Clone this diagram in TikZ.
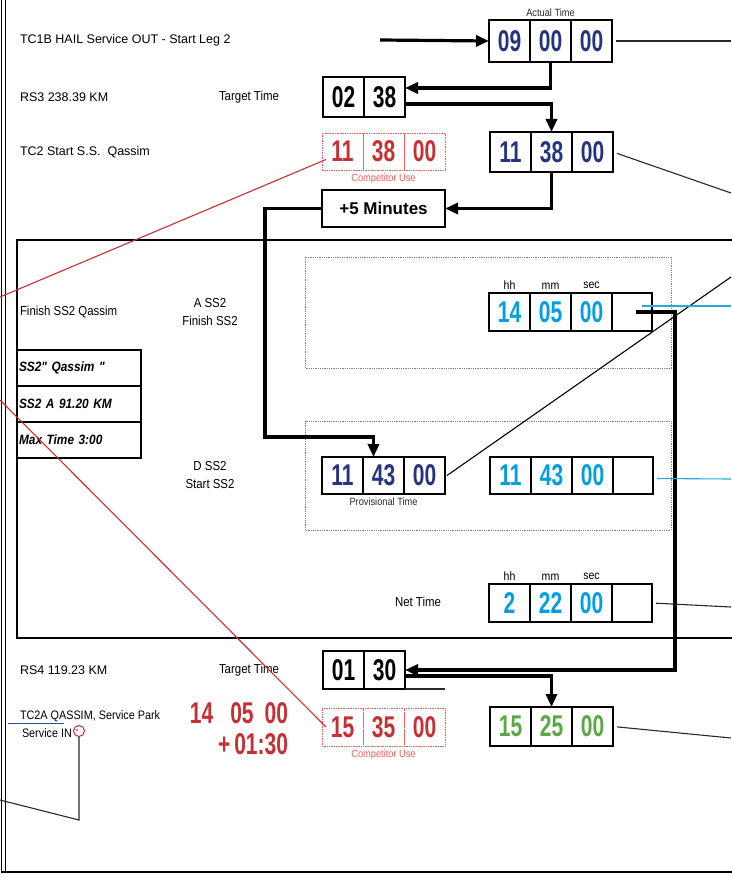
\documentclass[tikz,border=0pt]{standalone}
\usepackage{fontspec}
\setmainfont{Liberation Sans}
\newfontfamily\digitfont[FakeStretch=0.7]{Liberation Sans}
\newfontfamily\narrowfont[FakeStretch=0.88]{Liberation Sans}
\usetikzlibrary{positioning,arrows.meta}
\definecolor{TimeBlue}{RGB}{38,52,128}
\definecolor{TimeCyan}{RGB}{0,158,224}
\definecolor{TimeRed}{RGB}{196,48,52}
\definecolor{CompRed}{RGB}{236,96,96}
\definecolor{TimeGreen}{RGB}{92,168,72}
\definecolor{LinkCyan}{RGB}{40,168,214}
\definecolor{LinkGray}{RGB}{40,40,40}
\definecolor{FrameGray}{RGB}{130,130,130}
\definecolor{MarkBlue}{RGB}{50,70,170}

\begin{document}
\begin{tikzpicture}[x=1pt,y=-1pt,
  every node/.style={inner sep=0pt,outer sep=0pt},
  cell/.style={draw,line width=2.2pt,minimum width=41pt,minimum height=38pt,
    font=\digitfont\bfseries\fontsize{30}{30}\selectfont},
  bluecell/.style={cell,text=TimeBlue},
  cyancell/.style={cell,text=TimeCyan},
  greencell/.style={cell,text=TimeGreen},
  compcell/.style={cell,draw=CompRed,line width=0.7pt,densely dotted,text=TimeRed},
  rowlabel/.style={anchor=west,font=\fontsize{12.5}{14}\selectfont},
  midlabel/.style={align=center,font=\narrowfont\fontsize{13}{18}\selectfont},
  smalllabel/.style={text=LinkGray,font=\narrowfont\fontsize{10.5}{12}\selectfont},
  complabel/.style={smalllabel,text=CompRed},
  unitlabel/.style={font=\narrowfont\fontsize{12}{14}\selectfont},
  tablecell/.style={draw,line width=1.3pt,minimum width=124pt,minimum height=36pt,
    text width=120pt,inner xsep=2pt,align=left,
    font=\narrowfont\bfseries\itshape\fontsize{13.5}{15}\selectfont},
  flow/.style={line width=3.2pt,-{Triangle[length=13pt,width=11pt]}},
  thinlink/.style={line width=1.1pt,LinkGray},
  cyanlink/.style={line width=1.1pt,LinkCyan},
  redlink/.style={line width=1.1pt,TimeRed}]
\useasboundingbox (0,0) rectangle (731,877);

% outer and stage frames
\draw[line width=1.3pt] (1.5,0) -- (1.5,872) -- (735,872);
\draw[line width=1.3pt] (5.5,0) -- (5.5,872);
\draw[line width=2pt] (17,240) rectangle (740,638);
\draw[FrameGray,densely dotted,line width=0.8pt] (305,257) rectangle (671,368);
\draw[FrameGray,densely dotted,line width=0.8pt] (305,421) rectangle (671,530);

% left column texts
\node[rowlabel] (tcout) at (20,40) {TC1B HAIL Service OUT - Start Leg 2};
\node[rowlabel] (rsA) at (20,97) {RS3 238.39 KM};
\node[rowlabel,font=\narrowfont\fontsize{13}{14}\selectfont] (tgtAlabel) at (219,97) {Target Time};
\node[rowlabel] (tcstart) at (20,152) {TC2 Start S.S.\ \ Qassim};
\node[rowlabel,font=\narrowfont\fontsize{13}{14}\selectfont] (finishname) at (20,312) {Finish SS2 Qassim};
\node[midlabel] (finishlabel) at (210,312) {A SS2\\Finish SS2};
\node[midlabel] (startlabel) at (210,475) {D SS2\\Start SS2};
\node[midlabel] (netlabel) at (418,602) {Net Time};
\node[rowlabel] (rsB) at (20,670) {RS4 119.23 KM};
\node[rowlabel,font=\narrowfont\fontsize{13}{14}\selectfont] (tgtBlabel) at (219,670) {Target Time};
\node[rowlabel,font=\narrowfont\fontsize{12.3}{14}\selectfont] (tcpark) at (20,716) {TC2A QASSIM, Service Park};
\node[rowlabel,font=\narrowfont\fontsize{12.3}{14}\selectfont] (tcin) at (22,733) {Service IN};
\node[anchor=east,text=TimeRed,font=\digitfont\bfseries\fontsize{30}{30}\selectfont] (sumA) at (288,713) {14\hspace{17pt}05\hspace{11pt}00};
\node[anchor=east,text=TimeRed,font=\digitfont\bfseries\fontsize{30}{30}\selectfont] (sumB) at (288,744) {+\hspace{4pt}01:30};

% stage table
\node[tablecell,anchor=north west] (ssname) at (17,350) {SS2" Qassim "};
\node[tablecell,below=0pt of ssname] (sskm) {SS2 A 91.20 KM};
\node[tablecell,below=0pt of sskm] (ssmax) {Max Time 3:00};

% actual time out
\node[bluecell,anchor=north west,minimum height=42pt] (act1) at (489,20) {09};
\node[bluecell,minimum height=42pt,right=0pt of act1] (act2) {00};
\node[bluecell,minimum height=42pt,right=0pt of act2] (act3) {00};
\node[smalllabel,above=3pt of act2] (actlabel) {Actual Time};

% target time RS3
\node[cell,anchor=north west,minimum height=40pt] (tgtA1) at (323,77) {02};
\node[cell,minimum height=40pt,right=0pt of tgtA1] (tgtA2) {38};

% TC2 times
\node[compcell,anchor=north west,minimum height=37pt] (compA1) at (322,133) {11};
\node[compcell,minimum height=37pt,right=0pt of compA1] (compA2) {38};
\node[compcell,minimum height=37pt,right=0pt of compA2] (compA3) {00};
\node[complabel,below=4pt of compA2] (compAlabel) {Competitor Use};
\node[bluecell,anchor=north west,minimum height=40pt] (startA1) at (490,132) {11};
\node[bluecell,minimum height=40pt,right=0pt of startA1] (startA2) {38};
\node[bluecell,minimum height=40pt,right=0pt of startA2] (startA3) {00};

\node[draw,line width=2pt,anchor=north west,minimum width=123pt,minimum height=37pt,
      font=\bfseries\fontsize{17}{17}\selectfont] (plus) at (322,190) {+5 Minutes};

% finish SS2
\node[cyancell,anchor=north west] (finish1) at (489,293) {14};
\node[cyancell,right=0pt of finish1] (finish2) {05};
\node[cyancell,right=0pt of finish2] (finish3) {00};
\node[cell,minimum width=40pt,right=0pt of finish3] (finish4) {};
\node[unitlabel,above=4pt of finish1] (hhA) {hh};
\node[unitlabel,above=4pt of finish2] (mmA) {mm};
\node[unitlabel,above=4pt of finish3] (secA) {sec};

% start SS2
\node[bluecell,anchor=north west,minimum height=37pt] (prov1) at (322,457) {11};
\node[bluecell,minimum height=37pt,right=0pt of prov1] (prov2) {43};
\node[bluecell,minimum height=37pt,right=0pt of prov2] (prov3) {00};
\node[smalllabel,below=4pt of prov2] (provlabel) {Provisional Time};
\node[cyancell,anchor=north west,minimum height=37pt] (startB1) at (490,457) {11};
\node[cyancell,minimum height=37pt,right=0pt of startB1] (startB2) {43};
\node[cyancell,minimum height=37pt,right=0pt of startB2] (startB3) {00};
\node[cell,minimum height=37pt,minimum width=40pt,right=0pt of startB3] (startB4) {};

% net time
\node[cyancell,anchor=north west] (net1) at (489,584) {2};
\node[cyancell,right=0pt of net1] (net2) {22};
\node[cyancell,right=0pt of net2] (net3) {00};
\node[cell,minimum width=40pt,right=0pt of net3] (net4) {};
\node[unitlabel,above=4pt of net1] (hhB) {hh};
\node[unitlabel,above=4pt of net2] (mmB) {mm};
\node[unitlabel,above=4pt of net3] (secB) {sec};

% target time RS4 and TC2A
\node[cell,anchor=north west] (tgtB1) at (323,651) {01};
\node[cell,right=0pt of tgtB1] (tgtB2) {30};
\node[compcell,anchor=north west] (compB1) at (322,708) {15};
\node[compcell,right=0pt of compB1] (compB2) {35};
\node[compcell,right=0pt of compB2] (compB3) {00};
\node[complabel,below=4pt of compB2] (compBlabel) {Competitor Use};
\node[greencell,anchor=north west,minimum height=39pt] (arrive1) at (490,707) {15};
\node[greencell,minimum height=39pt,right=0pt of arrive1] (arrive2) {25};
\node[greencell,minimum height=39pt,right=0pt of arrive2] (arrive3) {00};

% service in mark
\node[draw=TimeRed,circle,line width=1pt,minimum size=11pt] (inmark) at (79,731) {};
\fill[LinkGray] ([xshift=-2pt,yshift=1pt]inmark.center) circle (0.9pt);
\draw[MarkBlue,line width=1pt] (8,723) -- (64,723);

% thick flow arrows
\coordinate (feed) at (380,40);
\coordinate (bendA) at (265,437);
\coordinate (bendB) at (675,670);
\coordinate (tailB) at (445,689);
\draw[flow] (feed) -- (act1.west);
\draw[flow] (act2.south) |- ([yshift=9pt]tgtA2.east);
\draw[flow] ([yshift=-7pt]tgtA2.east) -| (startA2.north);
\draw[flow] (startA2.south) |- (plus.east);
\draw[flow] (plus.west) -| (bendA) -| ([xshift=-10pt]prov2.north);
\draw[flow] ([xshift=4pt]finish4.center) -| (bendB) |- (tgtB2.east);
\draw[flow] ([yshift=-6pt]tgtB2.east) -| (arrive2.north);
\draw[thinlink] (tgtB2.south east) -- (tailB);

% thin links to the right edge
\coordinate (edgeA) at (731,41);
\coordinate (edgeB) at (731,193);
\coordinate (edgeC) at (731,277);
\coordinate (edgeD) at (731,306);
\coordinate (edgeE) at (731,479);
\coordinate (edgeF) at (731,607);
\coordinate (edgeG) at (731,738);
\draw[thinlink,shorten <=4pt] (act3.east) -- (edgeA);
\draw[thinlink,shorten <=4pt] (startA3.east) -- (edgeB);
\draw[thinlink,black] ([xshift=2pt]prov3.east) -- (edgeC);
\draw[cyanlink] ([xshift=10pt,yshift=6pt]finish4.center) -- (edgeD);
\draw[cyanlink,shorten <=4pt] ([yshift=-3pt]startB4.east) -- (edgeE);
\draw[thinlink,shorten <=4pt] (net4.east) -- (edgeF);
\draw[thinlink,shorten <=4pt] (arrive3.east) -- (edgeG);

% red competitor links and service in link
\coordinate (redA) at (0,297);
\coordinate (redB) at (0,400);
\coordinate (leftC) at (0,800);
\coordinate (kneeC) at (79,820);
\draw[redlink] ([xshift=4pt,yshift=-8pt]compA1.west) -- (redA);
\draw[redlink] ([xshift=4pt]compB1.west) -- (redB);
\draw[thinlink] (leftC) -- (kneeC) -- (inmark.south);
\end{tikzpicture}
\end{document}
